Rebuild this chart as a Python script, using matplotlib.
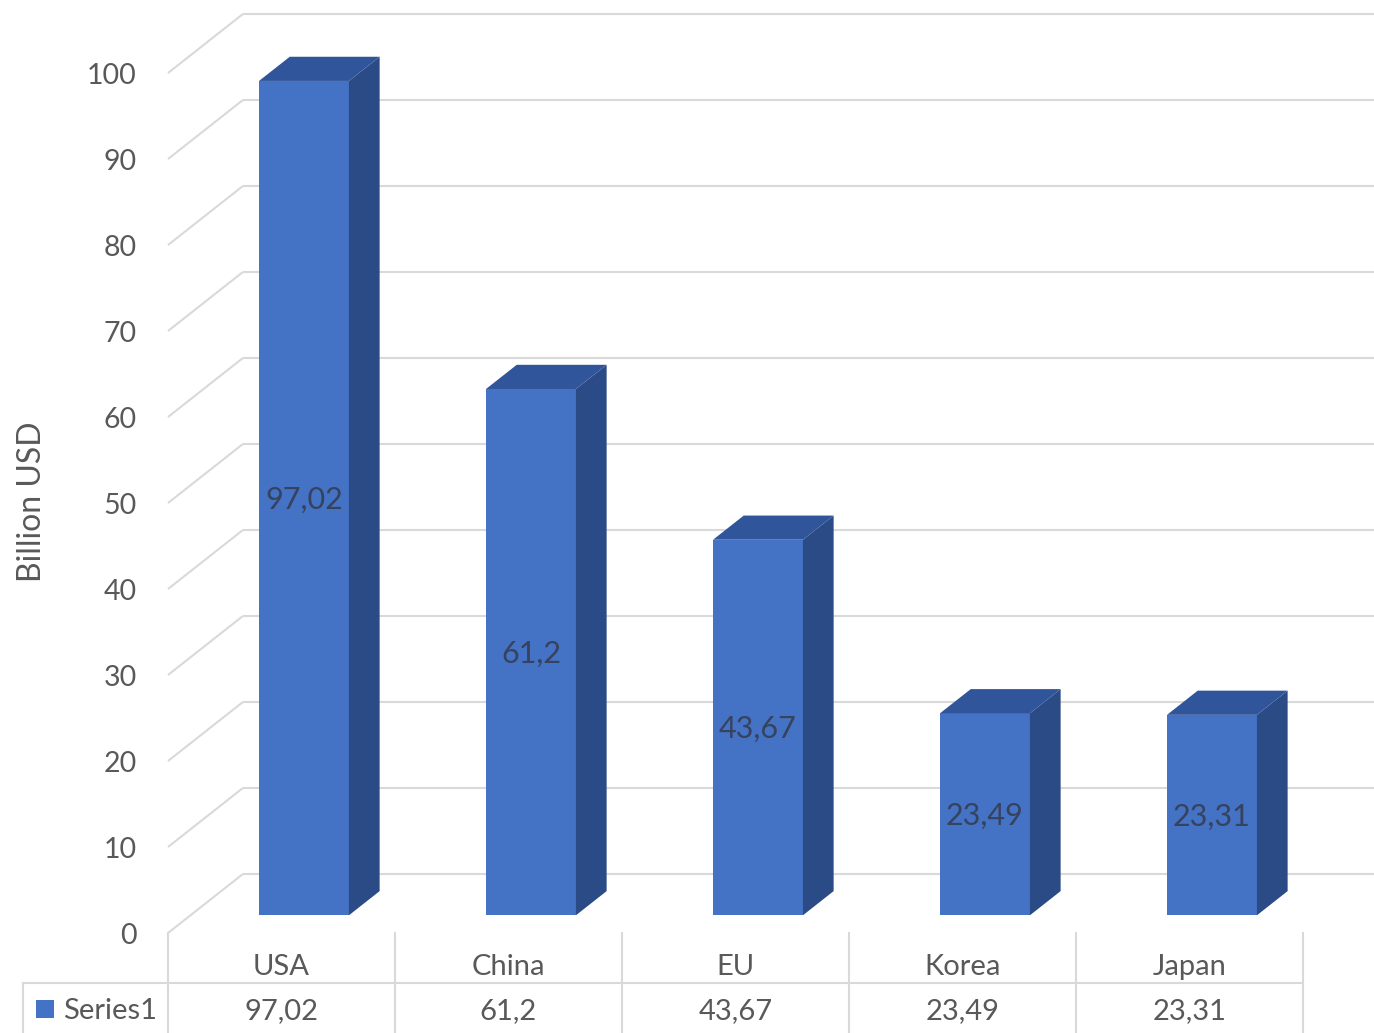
import matplotlib
matplotlib.use("Agg")
import matplotlib.pyplot as plt
from matplotlib.patches import Polygon, Rectangle

countries = ["USA", "China", "EU", "Korea", "Japan"]
values = [97.02, 61.2, 43.67, 23.49, 23.31]
series_name = "Series1"
y_ticks = [0, 10, 20, 30, 40, 50, 60, 70, 80, 90, 100]
y_label = "Billion USD"

plt.rcParams["font.family"] = ["Lato", "DejaVu Sans"]

FRONT = "#4472c4"
SIDE = "#2b4b86"
TOP = "#30559b"
GRID = "#d9d9d9"
TEXT = "#595959"

# oblique projection: one unit of depth shifts x and y by these amounts
DX, DY = 0.330, 6.86
D0, D1 = 0.30, 0.71   # bar front / back depth
W = 0.396             # bar width in category units


def fmt(v):
    return f"{v:g}".replace(".", ",")


fig = plt.figure(figsize=(13.74, 10.33), dpi=100)
ax = fig.add_axes([0, 0, 1, 1])
ax.set_xlim(-1.2401, 4.8128)
ax.set_ylim(-11.628, 108.49)
ax.axis("off")

# side wall and back wall gridlines
x_wall = -0.5
for t in y_ticks:
    ax.plot([x_wall, x_wall + DX], [t, t + DY], color=GRID, lw=1.5, zorder=1,
            solid_capstyle="butt")
    ax.plot([x_wall + DX, 4.9], [t + DY, t + DY], color=GRID, lw=1.5, zorder=1,
            solid_capstyle="butt")
    ax.text(x_wall - 0.137, t - 0.3, str(t), ha="right", va="center",
            fontsize=20.5, color=TEXT)

ax.text(-1.099, 50.1, y_label, rotation=90, ha="center", va="center",
        fontsize=23, color=TEXT)

# 3d-looking columns
for i, v in enumerate(values):
    xl = i - W / 2 + D0 * DX
    xr = i + W / 2 + D0 * DX
    yb = D0 * DY
    yt = v + D0 * DY
    sx = (D1 - D0) * DX
    sy = (D1 - D0) * DY
    ax.add_patch(Rectangle((xl, yb), W, v, facecolor=FRONT, edgecolor="none",
                           zorder=3))
    ax.add_patch(Polygon([(xr, yb), (xr + sx, yb + sy), (xr + sx, yt + sy),
                          (xr, yt)], closed=True, facecolor=SIDE,
                         edgecolor="none", zorder=3))
    ax.add_patch(Polygon([(xl, yt), (xr, yt), (xr + sx, yt + sy),
                          (xl + sx, yt + sy)], closed=True, facecolor=TOP,
                         edgecolor="none", zorder=3))
    ax.text(i + D0 * DX, v / 2 + D0 * DY - 0.2, fmt(v), ha="center",
            va="center", fontsize=22, color="#36425e", zorder=4)

# data table below the plot
row_y = -5.81
left_x = -1.139
for k in range(len(countries) + 1):
    ax.plot([k - 0.5, k - 0.5], [0, -11.7], color=GRID, lw=1.5, zorder=1)
ax.plot([left_x, len(countries) - 0.5], [row_y, row_y], color=GRID, lw=1.5,
        zorder=1)
ax.plot([left_x, left_x], [row_y, -11.7], color=GRID, lw=1.5, zorder=1)

for i, (c, v) in enumerate(zip(countries, values)):
    ax.text(i, -4.0, c, ha="center", va="center", fontsize=21, color=TEXT)
    ax.text(i, -9.1, fmt(v), ha="center", va="center", fontsize=21,
            color=TEXT)

ax.add_patch(Rectangle((-1.081, -9.88), 0.079, 2.09, facecolor=FRONT,
                       edgecolor="none"))
ax.text(-0.963, -9.1, series_name, ha="left", va="center", fontsize=21,
        color=TEXT)

fig.savefig("out.png", dpi=100)
